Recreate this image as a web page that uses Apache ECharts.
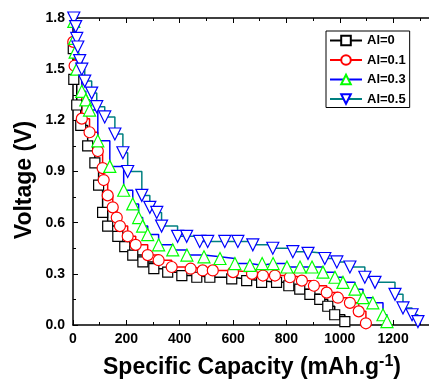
<!DOCTYPE html>
<html>
<head>
<meta charset="utf-8">
<script src="https://cdn.jsdelivr.net/npm/echarts@6/dist/echarts.min.js"></script>
<style>html,body{margin:0;padding:0;background:#fff;}#c{width:429px;height:382px;}</style>
</head>
<body>
<div id="c"></div>
<script>
const seriesNames = ['Al=0', 'Al=0.1', 'Al=0.3', 'Al=0.5'];
const yTickLabels = ['0.0', '0.3', '0.6', '0.9', '1.2', '1.5', '1.8'];
const xTickLabels = ['0', '200', '400', '600', '800', '1000', '1200'];

const capAl0 = [1, 3, 14, 29, 55, 82, 96, 111, 130, 168, 194, 224, 262, 303, 355, 408, 464, 513, 595, 651, 707, 763, 809, 850, 888, 925, 955, 981, 1019];
const voltAl0 = [1.62, 1.44, 1.29, 1.17, 1.05, 0.95, 0.82, 0.66, 0.58, 0.52, 0.46, 0.41, 0.37, 0.33, 0.31, 0.29, 0.28, 0.28, 0.27, 0.26, 0.25, 0.25, 0.23, 0.21, 0.18, 0.15, 0.11, 0.06, 0.02];

const capAl01 = [1, 6, 33, 62, 93, 111, 115, 130, 149, 164, 176, 205, 235, 280, 321, 370, 441, 486, 524, 600, 671, 712, 757, 813, 858, 903, 951, 993, 1038, 1071, 1098];
const voltAl01 = [1.66, 1.52, 1.21, 1.13, 1.02, 0.92, 0.85, 0.76, 0.69, 0.63, 0.58, 0.52, 0.47, 0.41, 0.38, 0.34, 0.33, 0.32, 0.32, 0.31, 0.30, 0.29, 0.29, 0.28, 0.26, 0.23, 0.19, 0.16, 0.13, 0.08, 0.01];

const capAl03 = [3, 6, 8, 14, 33, 48, 62, 93, 138, 190, 224, 246, 261, 280, 321, 374, 427, 491, 551, 607, 663, 709, 750, 802, 851, 896, 937, 982, 1012, 1057, 1087, 1124, 1162, 1177];
const voltAl03 = [1.78, 1.68, 1.60, 1.50, 1.37, 1.32, 1.26, 1.08, 0.93, 0.79, 0.71, 0.63, 0.58, 0.53, 0.47, 0.44, 0.41, 0.40, 0.39, 0.36, 0.35, 0.36, 0.36, 0.34, 0.34, 0.34, 0.31, 0.28, 0.25, 0.21, 0.16, 0.13, 0.06, 0.02];

const capAl05 = [3, 10, 14, 18, 25, 33, 44, 70, 89, 119, 157, 187, 205, 258, 288, 314, 332, 392, 426, 475, 505, 569, 618, 674, 749, 824, 881, 944, 989, 1038, 1094, 1132, 1207, 1237, 1271, 1293];
const voltAl05 = [1.80, 1.75, 1.68, 1.63, 1.55, 1.50, 1.43, 1.36, 1.28, 1.22, 1.12, 1.01, 0.90, 0.76, 0.69, 0.66, 0.58, 0.52, 0.52, 0.49, 0.49, 0.49, 0.49, 0.47, 0.45, 0.43, 0.42, 0.39, 0.37, 0.34, 0.28, 0.25, 0.18, 0.10, 0.06, 0.02];

const FONT = '"Liberation Sans", Arial, sans-serif';
function pairs(xs, ys) { return xs.map((x, i) => [x, ys[i]]); }

const styles = [
  { line: '#000000', mark: '#000000', symbol: 'rect', size: 10, rot: 0 },
  { line: '#ff0000', mark: '#ff0000', symbol: 'circle', size: 11, rot: 0 },
  { line: '#0000ff', mark: '#00ff00', symbol: 'triangle', size: 12, rot: 0 },
  { line: '#008080', mark: '#0000ff', symbol: 'triangle', size: 12, rot: 180 }
];
const datas = [pairs(capAl0, voltAl0), pairs(capAl01, voltAl01), pairs(capAl03, voltAl03), pairs(capAl05, voltAl05)];

const chart = echarts.init(document.getElementById('c'), null, { renderer: 'canvas' });
chart.setOption({
  animation: false,
  backgroundColor: '#fff',
  grid: { left: 73, top: 18, right: -2, bottom: 57, containLabel: false, outerBoundsMode: 'none' },
  legend: {
    orient: 'vertical', left: 326, top: 31,
    padding: [3, 4, 2, 3], itemGap: 6.5, itemWidth: 32, itemHeight: 12,
    borderColor: '#000', borderWidth: 1, backgroundColor: '#fff',
    textStyle: { fontFamily: FONT, fontWeight: 'bold', fontSize: 13, color: '#000' },
    data: seriesNames
  },
  xAxis: [{
    type: 'value', min: 0, max: 1342, interval: 200,
    name: '{a|Specific Capacity (mAh.g}{s|-1}{a|)}', nameLocation: 'middle', nameGap: 29,
    nameTextStyle: { rich: {
      a: { fontFamily: FONT, fontWeight: 'bold', fontSize: 23, color: '#000' },
      s: { fontFamily: FONT, fontWeight: 'bold', fontSize: 16, color: '#000', padding: [0, 0, 12, 0] }
    } },
    axisLine: { show: true, onZero: false, lineStyle: { color: '#000', width: 1.5 } },
    axisTick: { show: true, inside: true, length: 5, lineStyle: { color: '#000', width: 1 } },
    minorTick: { show: true, splitNumber: 2, length: 3, lineStyle: { color: '#000', width: 1 } },
    splitLine: { show: false },
    axisLabel: { showMaxLabel: false, margin: 7, fontFamily: FONT, fontWeight: 'bold', fontSize: 14, color: '#000',
      formatter: v => { const i = Math.round(v / 200); return (Math.abs(v - i * 200) < 1e-6 && xTickLabels[i]) ? xTickLabels[i] : ''; } }
  }, {
    type: 'value', position: 'top', min: 0, max: 1342, interval: 200,
    axisLine: { show: true, onZero: false, lineStyle: { color: '#000', width: 1.5 } },
    axisTick: { show: true, inside: true, length: 5, lineStyle: { color: '#000', width: 1 } },
    minorTick: { show: true, splitNumber: 2, length: 3, lineStyle: { color: '#000', width: 1 } },
    splitLine: { show: false },
    axisLabel: { show: false }
  }],
  yAxis: {
    type: 'value', min: 0, max: 1.8, interval: 0.3,
    axisLine: { show: true, onZero: false, lineStyle: { color: '#000', width: 1.5 } },
    axisTick: { show: true, inside: true, length: 5, lineStyle: { color: '#000', width: 1 } },
    minorTick: { show: true, splitNumber: 2, length: 3, lineStyle: { color: '#000', width: 1 } },
    splitLine: { show: false },
    axisLabel: { margin: 8, fontFamily: FONT, fontWeight: 'bold', fontSize: 14, color: '#000',
      formatter: v => { const i = Math.round(v / 0.3); return yTickLabels[i] || ''; } }
  },
  graphic: [{
    type: 'text', x: 25, y: 180, rotation: Math.PI / 2,
    style: { text: 'Voltage (V)', font: 'bold 23px ' + FONT, fill: '#000', align: 'center', verticalAlign: 'middle' }
  }],
  series: seriesNames.map((n, k) => ({
    name: n, type: 'line', xAxisIndex: 0, step: 'end',
    data: datas[k],
    symbol: styles[k].symbol, symbolSize: styles[k].size, symbolRotate: styles[k].rot,
    showAllSymbol: true,
    lineStyle: { color: styles[k].line, width: 1.5 },
    itemStyle: { color: '#fff', borderColor: styles[k].mark, borderWidth: 1.2 },
    emphasis: { disabled: true }
  }))
});
</script>
</body>
</html>
